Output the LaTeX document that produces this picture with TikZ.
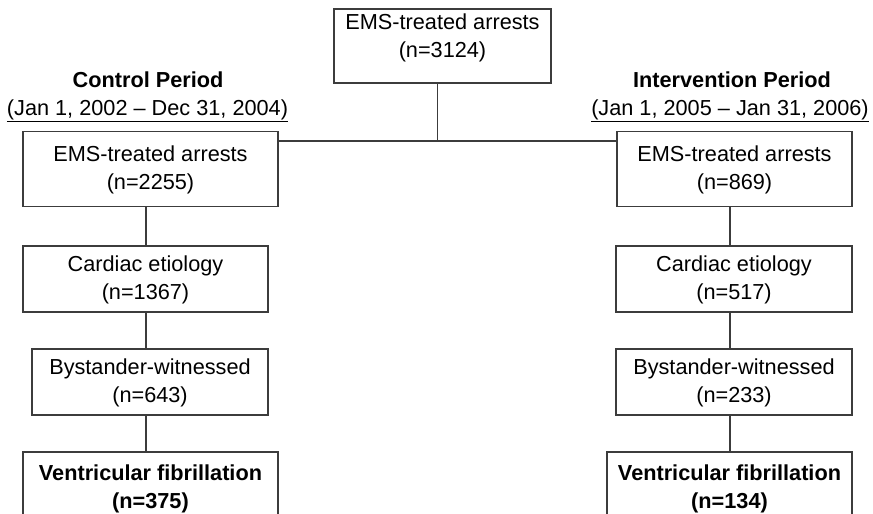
\documentclass[tikz,border=0pt]{standalone}
\usepackage{fontspec}
\setmainfont{Liberation Sans}
\newcommand{\fsz}{\fontsize{21.7}{28}\selectfont}
\newcommand{\st}{\rule[-8pt]{0pt}{28pt}}
\definecolor{linec}{RGB}{60,60,60}
\begin{document}
\begin{tikzpicture}[x=1pt,y=-1pt,
  box/.style={draw=linec, line width=1.4pt, align=center, inner sep=0pt, font=\fsz},
  conn/.style={draw=linec, line width=1.3pt},
  head/.style={font=\fsz\bfseries, inner sep=0pt, anchor=base},
  dates/.style={font=\fsz, inner sep=0pt, anchor=base}]
\useasboundingbox (0,0) rectangle (873,514);
\clip (0,0) rectangle (873,514);

% top box
\node[box, minimum width=217pt, minimum height=74pt, text depth=26pt] (top) at (442.5,46) {\st EMS-treated arrests\\\st(n=3124)};

% headers
\node[head] (hc) at (148,87) {Control Period};
\node[dates] (dc) at (147.5,115) {\underline{(Jan 1, 2002 – Dec 31, 2004)}};
\node[head] (hi) at (732,87) {Intervention Period};
\node[dates] (di) at (730,115) {\underline{(Jan 1, 2005 – Jan 31, 2006)}};

% left column
\node[box, minimum width=255pt, minimum height=75pt] (emsl) at (150.5,169) {\st EMS-treated arrests\\\st(n=2255)};
\node[box, minimum width=245pt, minimum height=66pt] (cardl) at (145.5,279) {\st Cardiac etiology\\\st(n=1367)};
\node[box, minimum width=236pt, minimum height=66pt] (bysl) at (150,382) {\st Bystander-witnessed\\\st(n=643)};
\node[box, minimum width=255pt, minimum height=72pt, font=\fsz\bfseries] (vfl) at (150.5,488) {\st Ventricular fibrillation\\\st(n=375)};

% right column
\node[box, minimum width=235pt, minimum height=75pt] (emsr) at (734.5,169) {\st EMS-treated arrests\\\st(n=869)};
\node[box, minimum width=236pt, minimum height=66pt] (cardr) at (734,279) {\st Cardiac etiology\\\st(n=517)};
\node[box, minimum width=236pt, minimum height=66pt] (bysr) at (734,382) {\st Bystander-witnessed\\\st(n=233)};
\node[box, minimum width=245pt, minimum height=72pt, font=\fsz\bfseries] (vfr) at (729.5,488) {\st Ventricular fibrillation\\\st(n=134)};

% connector guides
\coordinate (tx) at (437.5,0);
\coordinate (hy) at (0,141);
\coordinate (lx) at (146,0);
\coordinate (rx) at (730,0);

\draw[conn] (top.south -| tx) -- (tx |- hy);
\draw[conn] (emsl.east |- hy) -- (emsr.west |- hy);

\draw[conn] (emsl.south -| lx) -- (cardl.north -| lx);
\draw[conn] (cardl.south -| lx) -- (bysl.north -| lx);
\draw[conn] (bysl.south -| lx) -- (vfl.north -| lx);

\draw[conn] (emsr.south -| rx) -- (cardr.north -| rx);
\draw[conn] (cardr.south -| rx) -- (bysr.north -| rx);
\draw[conn] (bysr.south -| rx) -- (vfr.north -| rx);
\end{tikzpicture}
\end{document}
